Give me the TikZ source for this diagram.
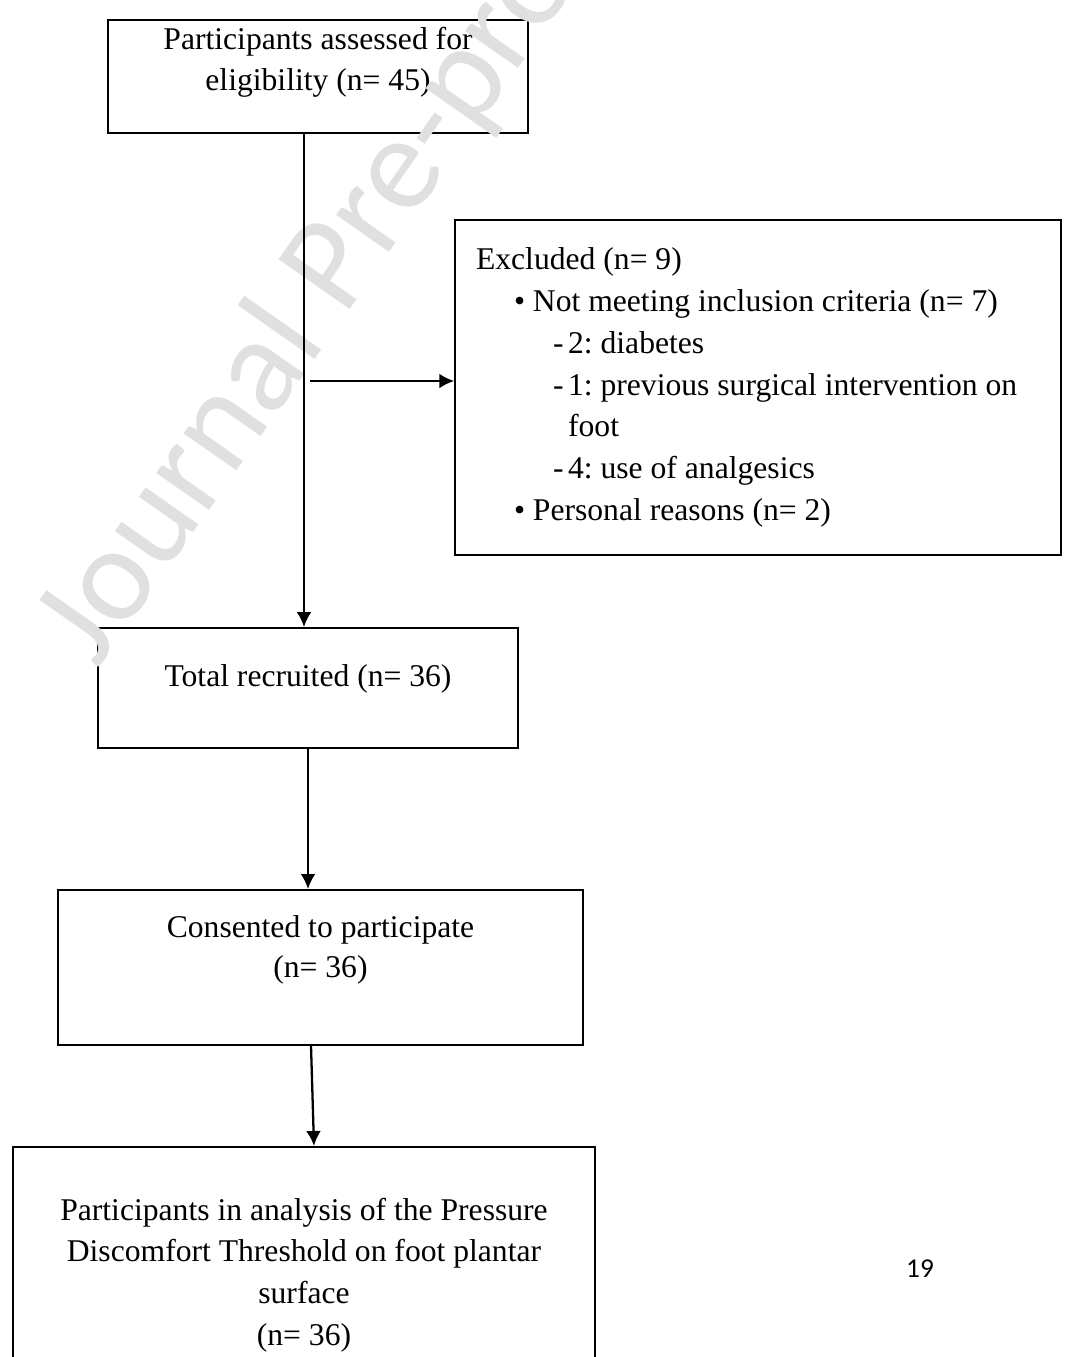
\documentclass[tikz,border=0pt]{standalone}
\usepackage{fontspec}
\setmainfont{Liberation Serif}
\newfontfamily\wmfont{Carlito}
\usetikzlibrary{arrows.meta, positioning}

\begin{document}
\begin{tikzpicture}[x=0.02cm, y=-0.02cm, font=\fontsize{18}{23}\selectfont]

% Define block styles
\tikzstyle{box} = [rectangle, draw=black, line width=1pt, align=center, inner sep=0pt]
\tikzstyle{listbox} = [rectangle, draw=black, line width=1pt, align=left, inner sep=0pt, font=\fontsize{18}{23.8}\selectfont]
\tikzstyle{arrow} = [line width=1.3pt, -{Latex[length=8.5pt, width=8.5pt]}]
\tikzstyle{watermark} = [rotate=55, text=black!12, inner sep=0pt, font=\wmfont\fontsize{77}{77}\selectfont]

\useasboundingbox (0,0) rectangle (1068,1357);

% Nodes
\node (assessed) [box, minimum width=8.4cm, minimum height=2.26cm, text depth=20pt] at (318,76.5) {Participants assessed for\\eligibility (n= 45)};
\node (recruited) [box, below of=assessed, node distance=12.23cm, xshift=-0.2cm, minimum width=8.4cm, minimum height=2.4cm, text depth=14pt] {Total recruited (n= 36)};
\node (consented) [box, below of=recruited, node distance=5.59cm, xshift=0.25cm, minimum width=10.5cm, minimum height=3.1cm, text depth=24pt] {Consented to participate\\(n= 36)};
\node (analysis) [box, below of=consented, node distance=6.15cm, xshift=-0.33cm, minimum width=11.64cm, minimum height=5.12cm, font=\fontsize{18}{23.7}\selectfont] {Participants in analysis of the Pressure\\Discomfort Threshold on foot plantar\\surface\\(n= 36)};

% Exclusion box
\node (excluded) [listbox, minimum width=12.12cm, minimum height=6.7cm, text width=11.28cm] at (758,387.5) {\spaceskip=0pt\xspaceskip=0pt\frenchspacing
Excluded (n= 9)\\
\hspace*{21.6pt}\makebox[10.8pt][l]{\textbullet}Not meeting inclusion criteria (n= 7)\\
\hspace*{43.8pt}\makebox[8.6pt][l]{-}2: diabetes\\
\hspace*{43.8pt}\makebox[8.6pt][l]{-}1: previous surgical intervention on\\
\hspace*{52.4pt}foot\\
\hspace*{43.8pt}\makebox[8.6pt][l]{-}4: use of analgesics\\
\hspace*{21.6pt}\makebox[10.8pt][l]{\textbullet}Personal reasons (n= 2)};

% Page number
\node (pagenum) [font=\wmfont\fontsize{15.5}{18}\selectfont] at (920,1269) {19};

% Watermark over the boxes
\node (jpp) [watermark] at (342,258) {Journal Pre-proof};

% Arrows
\coordinate (split) at (304,381);
\draw [arrow] (assessed.south -| split) -- (recruited.north -| split);
\draw [arrow] ([xshift=0.12cm]split) -- (excluded.west |- split);
\draw [arrow] (recruited.south) -- (recruited.south |- consented.north);
\draw [arrow] ([xshift=-0.19cm]consented.south) -- ([xshift=0.2cm]analysis.north);

\end{tikzpicture}
\end{document}
